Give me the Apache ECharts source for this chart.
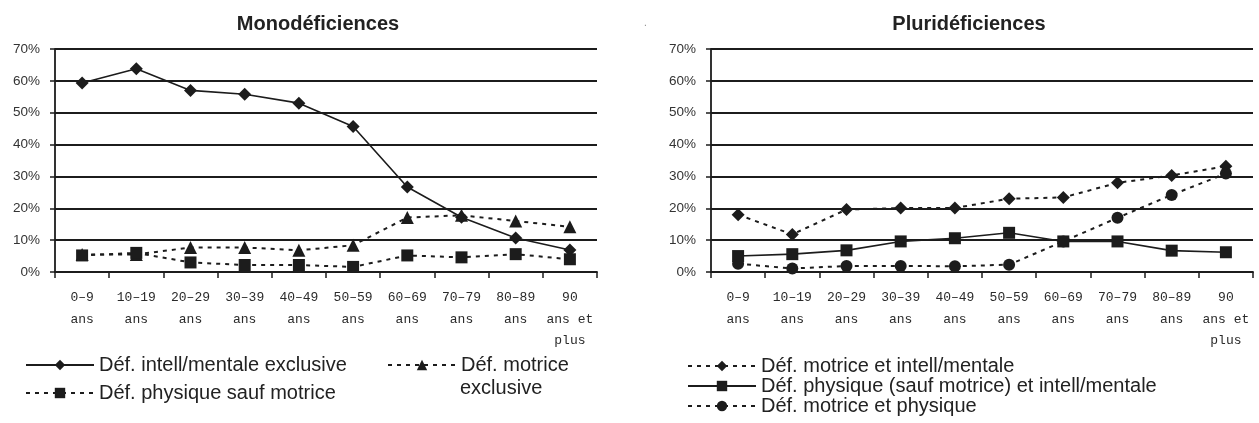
<!DOCTYPE html>
<html><head><meta charset="utf-8">
<script src="https://cdn.jsdelivr.net/npm/echarts@6/dist/echarts.min.js"></script>
<style>html,body{margin:0;padding:0;background:#fff}#c{width:1259px;height:423px}</style>
</head><body><div id="c"></div>
<script>
const categories = ['0\u20139\nans','10\u201319\nans','20\u201329\nans','30\u201339\nans','40\u201349\nans','50\u201359\nans','60\u201369\nans','70\u201379\nans','80\u201389\nans','90\nans et\nplus'];
const yTicks = [0,10,20,30,40,50,60,70];

const titleMono = 'Monod\u00e9ficiences';
const titlePluri = 'Plurid\u00e9ficiences';

const monoIntellName = 'D\u00e9f. intell/mentale exclusive';
const monoIntell = [59.3, 63.8, 57, 55.8, 53, 45.7, 26.7, 17.2, 10.7, 6.9];
const monoMotriceName = 'D\u00e9f. motrice exclusive';
const monoMotrice = [5.5, 5.5, 7.7, 7.7, 6.8, 8.4, 17.1, 17.8, 16.0, 14.2];
const monoPhysName = 'D\u00e9f. physique sauf motrice';
const monoPhys = [5.2, 6.0, 3.0, 2.2, 2.2, 1.6, 5.2, 4.6, 5.6, 4.0];

const pluriMIName = 'D\u00e9f. motrice et intell/mentale';
const pluriMI = [18.0, 11.8, 19.6, 20.1, 20.1, 23.0, 23.4, 28.0, 30.3, 33.2];
const pluriPIName = 'D\u00e9f. physique (sauf motrice) et intell/mentale';
const pluriPI = [5.0, 5.6, 6.8, 9.6, 10.6, 12.3, 9.6, 9.6, 6.7, 6.2];
const pluriMPName = 'D\u00e9f. motrice et physique';
const pluriMP = [2.6, 1.1, 1.9, 1.9, 1.8, 2.3, 9.6, 17.0, 24.2, 30.9];

const INK = '#1c1c1c';
const dashed = [4, 5];

function xAxis(gi) {
  return {
    type: 'category', gridIndex: gi, data: categories, boundaryGap: true,
    axisLine: { lineStyle: { color: INK, width: 1.8 } },
    axisTick: { show: true, length: 6, lineStyle: { color: INK, width: 1.5 } },
    axisLabel: { color: '#2a2a2a', fontFamily: 'Liberation Mono', fontSize: 13, lineHeight: 21.5, margin: 15, interval: 0 },
    splitLine: { show: false }
  };
}
function yAxis(gi) {
  return {
    type: 'value', gridIndex: gi, min: yTicks[0], max: yTicks[yTicks.length-1], interval: 10,
    axisLine: { show: true, lineStyle: { color: INK, width: 1.8 } },
    axisTick: { show: true, length: 5, lineStyle: { color: INK, width: 1.5 } },
    axisLabel: { color: '#333', fontFamily: 'Liberation Sans', fontSize: 13.5, margin: 15, formatter: '{value}%' },
    splitLine: { show: true, lineStyle: { color: INK, width: 1.8 } }
  };
}
function line(name, data, gi, symbol, dash, z) {
  return {
    type: 'line', name: name, data: data, xAxisIndex: gi, yAxisIndex: gi,
    symbol: symbol, symbolSize: symbol === 'diamond' ? 13 : (symbol === 'triangle' ? 13 : 12),
    showAllSymbol: true, z: z || 2,
    lineStyle: { color: INK, width: dash ? 2 : 1.6, type: dash ? dashed : 'solid' },
    itemStyle: { color: INK, borderWidth: 0 },
    emphasis: { disabled: true }, animation: false
  };
}
const legendText = { color: '#222', fontFamily: 'Liberation Sans', fontSize: 20, lineHeight: 20 };
function legend(data, left, top, orient, gap) {
  return { data: data, left: left, top: top, orient: orient || 'horizontal', itemWidth: 68, itemHeight: 13,
    itemGap: gap || 0, textStyle: legendText, selectedMode: false, padding: 0 };
}

const chart = echarts.init(document.getElementById('c'), null, { renderer: 'canvas' });
chart.setOption({
  animation: false,
  backgroundColor: '#fff',
  title: [
    { text: titleMono, left: 313, top: 9, textAlign: 'center', textStyle: { fontFamily: 'Liberation Sans', fontWeight: 'bold', fontSize: 20, color: '#222' } },
    { text: titlePluri, left: 964, top: 9, textAlign: 'center', textStyle: { fontFamily: 'Liberation Sans', fontWeight: 'bold', fontSize: 20, color: '#222' } }
  ],
  grid: [
    { left: 55, right: 662, top: 49, bottom: 151, containLabel: false },
    { left: 711, right: 6, top: 49, bottom: 151, containLabel: false }
  ],
  xAxis: [xAxis(0), xAxis(1)],
  yAxis: [yAxis(0), yAxis(1)],
  legend: [
    legend([{ name: monoIntellName }], 25, 355),
    legend([{ name: monoPhysName }], 25, 383),
    legend([{ name: monoMotriceName }], 387, 355),
    legend([{ name: pluriMIName }, { name: pluriPIName }, { name: pluriMPName }], 687, 356, 'vertical', 0)
  ],
  graphic: [
    { type: 'text', left: 460, top: 378, style: { text: 'exclusive', fill: '#222', font: '20px "Liberation Sans"' } },
    { type: 'text', left: 644, top: 18, style: { text: '.', fill: '#888', font: '10px "Liberation Sans"' } }
  ],
  series: [
    line(monoIntellName, monoIntell, 0, 'diamond', false),
    line(monoMotriceName, monoMotrice, 0, 'triangle', true),
    line(monoPhysName, monoPhys, 0, 'rect', true, 3),
    line(pluriMIName, pluriMI, 1, 'diamond', true),
    line(pluriPIName, pluriPI, 1, 'rect', false, 4),
    line(pluriMPName, pluriMP, 1, 'circle', true)
  ]
});
chart.setOption({ legend: [{}, {}, { formatter: function(){ return 'D\u00e9f. motrice'; } }, {}] });
</script>
</body></html>
